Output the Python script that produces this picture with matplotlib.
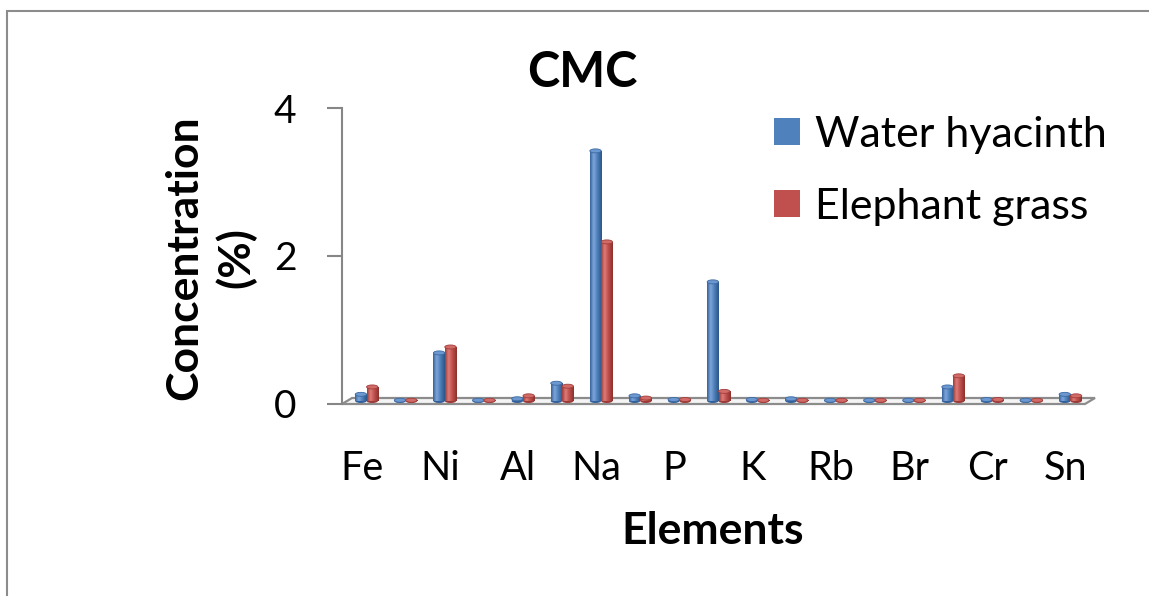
import numpy as np
import matplotlib
matplotlib.use("Agg")
import matplotlib.pyplot as plt
from matplotlib.colors import LinearSegmentedColormap
from matplotlib.patches import Ellipse, Polygon, Rectangle
from matplotlib.transforms import ScaledTranslation

# Element categories (only every other one carries a label)
categories = ["Fe", "", "Ni", "", "Al", "", "Na", "", "P", "",
              "K", "", "Rb", "", "Br", "", "Cr", "", "Sn"]

# Concentration (%) per category
water_hyacinth = [0.09, 0.01, 0.65, 0.01, 0.03, 0.24, 3.38, 0.07, 0.02, 1.61,
                  0.02, 0.03, 0.01, 0.01, 0.01, 0.19, 0.02, 0.01, 0.09]
elephant_grass = [0.19, 0.01, 0.73, 0.01, 0.07, 0.20, 2.15, 0.04, 0.02, 0.13,
                  0.01, 0.01, 0.01, 0.01, 0.01, 0.34, 0.02, 0.01, 0.07]

series_names = ["Water hyacinth", "Elephant grass"]
yticks = [0, 2, 4]

plt.rcParams["font.family"] = ["Lato", "DejaVu Sans"]

W, H, DPI = 1149, 596, 100
fig = plt.figure(figsize=(W / DPI, H / DPI), dpi=DPI)
fig.patch.set_facecolor("white")

ax = fig.add_axes([342 / W, 1 - 404 / H, 743 / W, 296 / H])
ax.set_facecolor("none")

# Depth offset for the columns (pseudo 3-D)
depth = ax.transData + ScaledTranslation(5 / DPI, 3 / DPI, fig.dpi_scale_trans)

x = np.arange(len(categories))
bw = 0.29
styles = [
    dict(base="#4F81BD", ramp=["#33609a", "#7fa7da", "#4f81bd", "#2c5586"],
         top="#6d98cf", edge="#3a6aa5"),
    dict(base="#C0504D", ramp=["#9c3a37", "#e07d7a", "#c0504d", "#8a302d"],
         top="#d06b68", edge="#a23d3a"),
]
ell_h = 4 / 74.0

for k, (vals, name, st) in enumerate(zip([water_hyacinth, elephant_grass],
                                         series_names, styles)):
    xs = x + (k - 0.5) * bw
    cmap = LinearSegmentedColormap.from_list(
        f"cyl{k}", list(zip([0, 0.3, 0.6, 1.0], st["ramp"])))
    # bottom caps
    for xi in xs:
        ax.add_patch(Ellipse((xi, 0), bw, ell_h, transform=depth,
                             facecolor=st["ramp"][0], edgecolor="none",
                             zorder=2))
    bars = ax.bar(xs, vals, width=bw, color=st["base"], edgecolor="none",
                  label=name, transform=depth, zorder=3)
    grad = np.linspace(0, 1, 64).reshape(1, -1)
    for xi, v, patch in zip(xs, vals, bars):
        im = ax.imshow(grad, cmap=cmap, aspect="auto", interpolation="bicubic",
                       extent=(xi - bw / 2, xi + bw / 2, 0, v),
                       transform=depth, zorder=3.5)
        im.set_clip_path(patch)
        ax.add_patch(Ellipse((xi, v), bw, ell_h, transform=depth,
                             facecolor=st["top"], edgecolor=st["edge"],
                             linewidth=0.6, zorder=4))

# Floor slab
dx, dy = 10 / 39.1, 6 / 74.0
x0, x1 = -0.5, len(categories) - 0.5
floor = Polygon([(x0, 0), (x1, 0), (x1 + dx, dy), (x0 + dx, dy)],
                closed=True, facecolor="#f4f4f4", edgecolor="#8c8c8c",
                linewidth=1.6, zorder=1, clip_on=False)
ax.add_patch(floor)

ax.set_xlim(x0, x1)
ax.set_ylim(0, 4)
ax.set_yticks(yticks)
ax.set_yticklabels([str(t) for t in yticks])
ax.set_xticks(x)
ax.set_xticklabels(categories)

for s in ["top", "right", "bottom"]:
    ax.spines[s].set_visible(False)
ax.spines["left"].set_color("#868686")
ax.spines["left"].set_linewidth(1.5)
ax.tick_params(axis="y", length=10.8, width=1.5, color="#868686",
               pad=22, labelsize=28)
ax.tick_params(axis="x", length=0, pad=33, labelsize=28.5)

fig.text(582 / W, 1 - 87 / H, "CMC", ha="center", va="baseline",
         fontsize=35, fontweight="bold")
fig.text(210 / W, 1 - 258 / H, "Concentration\n(%)", ha="center",
         va="center", rotation=90, fontsize=32, fontweight="bold",
         linespacing=1.3)
fig.text(713 / W, 1 - 544 / H, "Elements", ha="center", va="baseline",
         fontsize=32, fontweight="bold")

fig.legend(loc="upper left", bbox_to_anchor=(774 / W, 1 - 116 / H),
           frameon=False, fontsize=31, handlelength=0.6, handleheight=0.6,
           handletextpad=0.35, labelspacing=0.78, borderpad=0, borderaxespad=0)

# Outer chart border
fig.add_artist(Rectangle((7 / W, -0.2), 1.2, 1.2 - 11 / H,
                         transform=fig.transFigure, fill=False,
                         edgecolor="#8c8c8c", linewidth=1.5, clip_on=False))

fig.savefig("out.png", dpi=DPI)
